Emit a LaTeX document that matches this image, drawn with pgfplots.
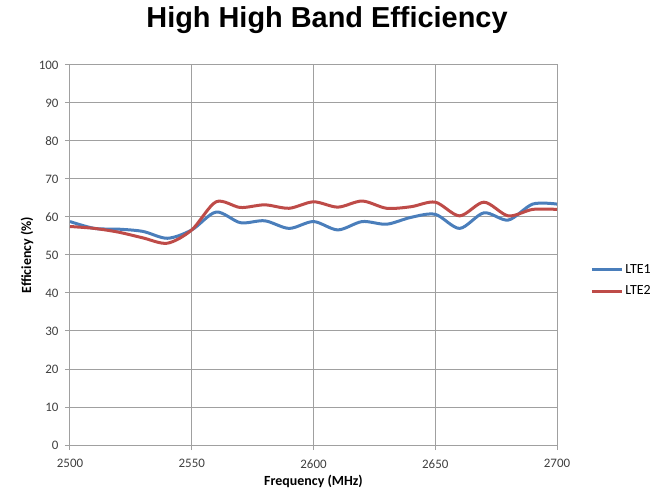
\documentclass[border=0pt]{standalone}
\usepackage{pgfplots}
\pgfplotsset{compat=1.18}
\usepackage{fontspec}
\setmainfont{Carlito}
\newfontfamily\arialf{Liberation Sans}
\definecolor{lteblue}{HTML}{4A7EBB}
\definecolor{ltered}{HTML}{BE4B48}
\definecolor{gridc}{HTML}{A0A0A0}
\begin{document}
\begin{tikzpicture}
\useasboundingbox (-70bp,-45bp) rectangle (599bp,445bp);
\node[font=\arialf\bfseries\fontsize{29}{31}\selectfont] at (257bp,425bp) {High High Band Efficiency};
\begin{axis}[
  at={(0,0)}, anchor=south west,
  scale only axis, width=487bp, height=380bp,
  xmin=2500, xmax=2700, ymin=0, ymax=100,
  xtick={2500,2550,...,2700}, ytick={0,10,...,100},
  xtick pos=bottom, ytick pos=left,
  grid=major, major grid style={gridc, line width=1bp},
  axis line style={gridc, line width=1bp},
  tick style={gridc, line width=1bp},
  tick align=outside, major tick length=5bp,
  /pgf/number format/assume math mode=true,
  /pgf/number format/set thousands separator={},
  tick label style={font=\fontsize{13}{15}\selectfont, text=black!75},
  xticklabel style={yshift=-6bp},
  yticklabel style={xshift=-3bp},
  label style={font=\bfseries\fontsize{14}{16}\selectfont, text=black},
  xlabel={Frequency (MHz)},
  ylabel={Efficiency (\%)},
  xlabel style={at={(axis description cs:0.5,-0.096)}, anchor=center},
  ylabel style={at={(axis description cs:-0.088,0.5)}, anchor=center},
  legend style={at={(axis description cs:1.068,0.433)}, anchor=west, draw=none, fill=none,
    font=\fontsize{14}{16}\selectfont, row sep=7bp, inner sep=0pt, cells={anchor=west}},
  legend image code/.code={\draw[#1, line width=3bp] (0bp,0bp) -- (30bp,0bp);},
]
\addplot[lteblue, line width=3bp, smooth] coordinates {
(2500,58.8) (2510,57.0) (2520,56.8) (2530,56.2) (2540,54.4) (2550,56.6)
(2560,61.3) (2570,58.5) (2580,59.0) (2590,57.0) (2600,58.8) (2610,56.6)
(2620,58.8) (2630,58.1) (2640,59.9) (2650,60.7) (2660,57.0) (2670,61.1)
(2680,59.2) (2690,63.4) (2700,63.4)};
\addlegendentry{LTE1}
\addplot[ltered, line width=3bp, smooth] coordinates {
(2500,57.5) (2510,57.0) (2520,56.0) (2530,54.5) (2540,53.1) (2550,56.6)
(2560,64.0) (2570,62.5) (2580,63.2) (2590,62.3) (2600,64.0) (2610,62.6)
(2620,64.2) (2630,62.3) (2640,62.7) (2650,63.9) (2660,60.3) (2670,63.9)
(2680,60.3) (2690,62.0) (2700,62.0)};
\addlegendentry{LTE2}
\end{axis}
\end{tikzpicture}
\end{document}
